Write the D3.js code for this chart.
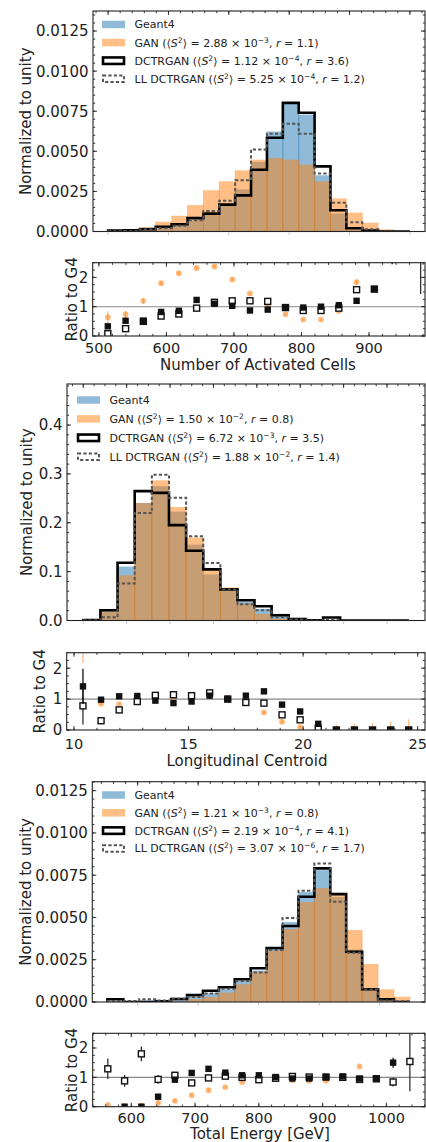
<!DOCTYPE html>
<html><head><meta charset="utf-8">
<script src="https://cdn.jsdelivr.net/npm/d3@7"></script>
<style>body{margin:0;background:#fff}svg{display:block}text{font-family:"DejaVu Sans",sans-serif;fill:#222}</style>
</head><body><script>
// ---------------- DATA ----------------
const seriesNames = ["Geant4", "GAN", "DCTRGAN", "LL DCTRGAN"];

// Panel 1: Number of Activated Cells
const cellsEdges = [500, 526.3, 552.6, 578.9, 605.3, 631.6, 657.9, 684.2, 710.5, 736.8, 763.2, 789.5, 815.8, 842.1, 868.4, 894.7, 921.1, 947.4, 973.7, 1000];
const cellsG4   = [0.000093, 0.000149, 0.000248, 0.000347, 0.000496, 0.000695, 0.001055, 0.001638, 0.002624, 0.004342, 0.006235, 0.007953, 0.007289, 0.003505, 0.001117, 0.000130, 0.000025, 0.000006, 0];
const cellsGAN  = [0.000062, 0.000112, 0.000267, 0.000608, 0.000980, 0.001644, 0.002574, 0.003133, 0.003815, 0.004479, 0.004578, 0.004479, 0.004169, 0.003133, 0.002060, 0.001179, 0.000546, 0.000136, 0];
const cellsDCTR = [0.000056, 0.000081, 0.000143, 0.000292, 0.000453, 0.000837, 0.001117, 0.001675, 0.002252, 0.003846, 0.005850, 0.008021, 0.007401, 0.004063, 0.001321, 0.000205, 0.000062, 0, 0];
const cellsLL   = [0.000009, 0.000034, 0.000130, 0.000199, 0.000360, 0.000701, 0.001284, 0.001923, 0.003189, 0.005118, 0.006092, 0.006712, 0.006092, 0.003610, 0.001787, 0.000571, 0.000136, 0, 0];
const cellsStats = [null, ["2.88", "−3", "1.1"], ["1.12", "−4", "3.6"], ["5.25", "−4", "1.2"]];
const cellsRatioX    = [513.2, 539.5, 565.8, 592.1, 618.4, 644.7, 671.1, 697.4, 723.7, 750.0, 776.3, 802.6, 828.9, 855.3, 881.6, 907.9, 934.2, 976.5];
const cellsRatioGAN  = [0.64, 0.74, 1.2, 1.8, 2.14, 2.32, 2.37, 1.93, 1.45, 1.06, 0.74, 0.56, 0.56, 0.85, 1.84, null, null, null];
const cellsErrGAN    = [0.2, 0.12, 0.1, 0.08, 0.06, 0.05, 0.05, 0.05, 0.04, 0.03, 0.03, 0.02, 0.03, 0.04, 0.08, 0, 0, 0];
const cellsRatioDCTR = [0.33, 0.52, 0.52, 0.82, 0.86, 1.23, 1.1, 1.03, 0.87, 0.9, 0.97, 0.97, 1.0, 1.05, 1.2, 1.6, 2.9, null];
const cellsErrDCTR   = [0.08, 0.07, 0.08, 0.06, 0.05, 0.04, 0.04, 0.03, 0.03, 0.03, 0.02, 0.02, 0.02, 0.03, 0.04, 0.1, 0.45, 0];
const cellsRatioLL   = [0.08, 0.25, 0.5, 0.68, 0.75, 0.95, 1.15, 1.2, 1.2, 1.18, 0.97, 0.87, 0.87, 0.95, 1.58, 1.6, null, 3.0];
const cellsErrLL     = [0.05, 0.06, 0.07, 0.06, 0.05, 0.04, 0.04, 0.03, 0.03, 0.03, 0.02, 0.02, 0.02, 0.03, 0.05, 0.1, 0, 1.57];
const cellsYTicks = [0, 0.0025, 0.005, 0.0075, 0.01, 0.0125];
const cellsRatioXTicks = [500, 600, 700, 800, 900];

// Panel 2: Longitudinal Centroid
const centEdges = [10, 10.79, 11.58, 12.37, 13.16, 13.95, 14.74, 15.53, 16.32, 17.11, 17.89, 18.68, 19.47, 20.26, 21.05, 21.84, 22.63, 23.42, 24.21, 25];
const centG4   = [0.0006, 0.0215, 0.1104, 0.2404, 0.2749, 0.2228, 0.1553, 0.0942, 0.0638, 0.0388, 0.0239, 0.0137, 0.0053, 0.0027, 0, 0, 0, 0, 0];
const centGAN  = [0.0018, 0.0182, 0.0926, 0.2404, 0.2868, 0.2322, 0.1697, 0.1063, 0.0675, 0.0347, 0.0137, 0.0037, 0.0005, 0.0001, 0, 0, 0, 0, 0];
const centDCTR = [0.0009, 0.0211, 0.1181, 0.2647, 0.2612, 0.1952, 0.1427, 0.1047, 0.0638, 0.0415, 0.0292, 0.0108, 0.0031, 0.0005, 0.0061, 0, 0, 0, 0];
const centLL   = [0.0005, 0.0065, 0.0756, 0.2199, 0.2984, 0.2514, 0.1723, 0.1177, 0.0634, 0.0333, 0.0211, 0.0067, 0.0018, 0.0001, 0.0010, 0, 0, 0, 0];
const centStats = [null, ["1.50", "−2", "0.8"], ["6.72", "−3", "3.5"], ["1.88", "−2", "1.4"]];
const centRatioX    = [10.39, 11.18, 11.97, 12.76, 13.55, 14.34, 15.13, 15.92, 16.71, 17.50, 18.29, 19.08, 19.87, 20.66, 21.45, 22.24, 23.03, 23.82, 24.61];
const centRatioGAN  = [3.0, 0.85, 0.84, 1.0, 1.07, 1.07, 1.09, 1.16, 1.05, 0.89, 0.57, 0.27, 0.09, 0.02, 0, 0, 0, 0, 0];
const centErrGAN    = [0.83, 0.06, 0.03, 0.02, 0.02, 0.02, 0.02, 0.03, 0.03, 0.04, 0.05, 0.05, 0.04, 0.02, 0.16, 0.2, 0.22, 0.27, 0.35];
const centRatioDCTR = [1.41, 0.98, 1.09, 1.1, 0.95, 0.87, 0.92, 1.11, 1.0, 1.11, 1.25, 0.82, 0.6, 0.2, 0, 0, 0, 0, 0];
const centErrDCTR   = [0.57, 0.06, 0.03, 0.02, 0.02, 0.02, 0.02, 0.03, 0.03, 0.04, 0.05, 0.06, 0.08, 0.07, 0, 0, 0, 0, 0];
const centRatioLL   = [0.78, 0.3, 0.65, 0.92, 1.12, 1.14, 1.11, 1.2, 1.0, 0.89, 0.87, 0.49, 0.33, 0.05, 0, 0, 0, 0, 0];
const centErrLL     = [0.6, 0.05, 0.03, 0.02, 0.02, 0.02, 0.02, 0.03, 0.03, 0.04, 0.05, 0.05, 0.05, 0.03, 0, 0, 0, 0, 0];
const centYTicks = [0, 0.1, 0.2, 0.3, 0.4];
const centRatioXTicks = [10, 15, 20, 25];

// Panel 3: Total Energy
const energyEdges = [550, 576.3, 602.6, 628.9, 655.3, 681.6, 707.9, 734.2, 760.5, 786.8, 813.2, 839.5, 865.8, 892.1, 918.4, 944.7, 971.1, 997.4, 1023.7, 1050];
const energyG4   = [0.000047, 0.000059, 0.000089, 0.000100, 0.000195, 0.000361, 0.000520, 0.000751, 0.001253, 0.001862, 0.003162, 0.004728, 0.006501, 0.007801, 0.006206, 0.003103, 0.000780, 0.000106, 0.000030];
const energyGAN  = [0.000003, 0.000002, 0.000003, 0.000012, 0.000041, 0.000177, 0.000290, 0.000561, 0.001052, 0.001785, 0.003038, 0.004314, 0.005910, 0.006737, 0.006460, 0.004255, 0.002246, 0.000751, 0.000313];
const energyDCTR = [0.000160, 0, 0, 0.000035, 0.000177, 0.000414, 0.000668, 0.000869, 0.001342, 0.001992, 0.003191, 0.004492, 0.006223, 0.007902, 0.006383, 0.002973, 0.000751, 0.000160, 0];
const energyLL   = [0.000059, 0.000053, 0.000160, 0.000095, 0.000207, 0.000290, 0.000508, 0.000780, 0.001241, 0.001743, 0.003073, 0.004964, 0.006578, 0.008197, 0.005928, 0.002914, 0.000739, 0.000089, 0.000047];
const energyStats = [null, ["1.21", "−3", "0.8"], ["2.19", "−4", "4.1"], ["3.07", "−6", "1.7"]];
const energyRatioX    = [563.2, 589.5, 615.8, 642.1, 668.4, 694.7, 721.1, 747.4, 773.7, 800.0, 826.3, 852.6, 878.9, 905.3, 931.6, 957.9, 984.2, 1010.5, 1036.8];
const energyRatioGAN  = [0.06, 0.03, 0.04, 0.13, 0.2, 0.39, 0.56, 0.67, 0.84, 0.96, 0.96, 0.9, 0.88, 0.88, 1.03, 1.37, null, null, null];
const energyErrGAN    = [0.04, 0.03, 0.03, 0.04, 0.04, 0.04, 0.04, 0.03, 0.03, 0.02, 0.02, 0.02, 0.02, 0.02, 0.02, 0.03, 0, 0, 0];
const energyRatioDCTR = [null, 0, 0, 0.34, 0.92, 1.15, 1.29, 1.16, 1.07, 1.07, 1.01, 0.96, 0.96, 1.01, 1.03, 0.96, 0.96, 1.5, null];
const energyErrDCTR   = [0, 0, 0, 0.1, 0.08, 0.06, 0.05, 0.04, 0.03, 0.03, 0.02, 0.02, 0.02, 0.02, 0.02, 0.03, 0.05, 0.17, 0];
const energyRatioLL   = [1.29, 0.88, 1.8, 0.93, 1.07, 0.81, 0.98, 1.04, 1.0, 0.92, 0.97, 1.03, 1.01, 1.01, 1.0, 0.93, 0.95, 0.84, 1.54];
const energyErrLL     = [0.35, 0.2, 0.25, 0.15, 0.12, 0.08, 0.06, 0.05, 0.04, 0.03, 0.02, 0.02, 0.02, 0.02, 0.02, 0.03, 0.05, 0.15, 1.01];
const energyYTicks = [0, 0.0025, 0.005, 0.0075, 0.01, 0.0125];
const energyRatioXTicks = [600, 700, 800, 900, 1000];

const ratioYTicks = [0, 1, 2];

// ---------------- DRAWING ----------------
const BLUE = "#1f77b4", ORANGE = "#ff7f0e", INK = "#222";
const svg = d3.select("body").append("svg").attr("width", 426).attr("height", 1142);
let clipId = 0;

function ticks(g, scale, vals, orient, box, len, opts = {}) {
  const col = opts.color || INK;
  vals.forEach(v => {
    const p = scale(v);
    if (orient === "left") g.append("line").attr("x1", box.l).attr("x2", box.l + len).attr("y1", p).attr("y2", p);
    if (orient === "right") g.append("line").attr("x1", box.r).attr("x2", box.r - len).attr("y1", p).attr("y2", p);
    if (orient === "top") g.append("line").attr("y1", box.t).attr("y2", box.t + len).attr("x1", p).attr("x2", p);
    if (orient === "bottom") g.append("line").attr("y1", box.b).attr("y2", box.b - len).attr("x1", p).attr("x2", p);
    if (orient === "bottomOut") g.append("line").attr("y1", box.b + 1).attr("y2", box.b + 1 + len).attr("x1", p).attr("x2", p);
  });
  g.selectAll("line").attr("stroke", col).attr("stroke-width", opts.w || 0.9);
}

function range(a, b, s) { const out = []; for (let v = a; v <= b + s * 1e-6; v += s) out.push(+v.toFixed(6)); return out; }

function legendText(sel, name, stats) {
  sel.append("tspan").text(name + (stats ? " (⟨" : ""));
  if (!stats) return;
  sel.append("tspan").attr("font-style", "italic").text("S");
  sel.append("tspan").attr("font-size", "7.5px").attr("dy", -4).text("2");
  sel.append("tspan").attr("dy", 4).text("⟩ = " + stats[0] + " × 10");
  sel.append("tspan").attr("font-size", "7.5px").attr("dy", -4).text(stats[1]);
  sel.append("tspan").attr("dy", 4).text(", ");
  sel.append("tspan").attr("font-style", "italic").text("r");
  sel.append("tspan").text(" = " + stats[2] + ")");
}

function drawMain(o) {
  const box = o.box;
  const g = svg.append("g");
  const x = d3.scaleLinear().domain(o.xDomain).range([box.l, box.r]);
  const y = d3.scaleLinear().domain(o.yDomain).range([box.b, box.t]);
  const id = "c" + (clipId++);
  g.append("clipPath").attr("id", id).append("rect").attr("x", box.l).attr("y", box.t).attr("width", box.r - box.l).attr("height", box.b - box.t);
  const pg = g.append("g").attr("clip-path", `url(#${id})`);
  const E = o.edges;
  [[o.g4, BLUE], [o.gan, ORANGE]].forEach(([vals, col]) => {
    pg.append("g").selectAll("rect").data(vals).enter().append("rect")
      .attr("x", (d, i) => x(E[i])).attr("width", (d, i) => x(E[i + 1]) - x(E[i]))
      .attr("y", d => y(d)).attr("height", d => y(0) - y(d))
      .attr("fill", col).attr("fill-opacity", 0.5);
    pg.append("path").attr("fill", "none").attr("stroke", col).attr("stroke-opacity", 0.4).attr("stroke-width", 0.8)
      .attr("d", vals.map((d, i) => d > 0 ? `M${x(E[i])},${y(0)}V${y(d)}M${x(E[i + 1])},${y(d)}V${y(0)}` : "").join(""));
  });
  const step = vals => {
    let p = `M${x(E[0])},${y(0)}`;
    vals.forEach((v, i) => { p += `V${y(v)}H${x(E[i + 1])}`; });
    return p + `V${y(0)}`;
  };
  pg.append("path").attr("d", step(o.dctr)).attr("fill", "none").attr("stroke", "#000").attr("stroke-width", 2.6);
  pg.append("path").attr("d", step(o.ll)).attr("fill", "none").attr("stroke", "#555").attr("stroke-width", 2).attr("stroke-dasharray", "3.2,2.2");

  // ticks
  const tg = g.append("g");
  ticks(tg.append("g"), y, o.yMinor, "left", box, 2.2);
  ticks(tg.append("g"), y, o.yMinor, "right", box, 2.2);
  ticks(tg.append("g"), y, o.yTicks, "left", box, 4);
  ticks(tg.append("g"), y, o.yTicks, "right", box, 4);
  ticks(tg.append("g"), x, o.xMinor, "top", box, 2.2);
  ticks(tg.append("g"), x, o.xTicks, "top", box, 4);
  ticks(tg.append("g"), x, o.xTicks, "bottomOut", box, 2.5, { color: "#bbb" });

  g.append("rect").attr("x", box.l).attr("y", box.t).attr("width", box.r - box.l).attr("height", box.b - box.t)
    .attr("fill", "none").attr("stroke", INK).attr("stroke-width", 1.1);

  g.append("g").selectAll("text").data(o.yTicks).enter().append("text")
    .attr("x", box.l - 4.5).attr("y", d => y(d)).attr("dy", "0.36em").attr("text-anchor", "end")
    .attr("font-size", "15px").text(o.yFmt);
  g.append("text").attr("transform", `translate(${o.ylabX},${(box.t + box.b) / 2}) rotate(-90)`)
    .attr("text-anchor", "middle").attr("dy", "0.36em").attr("font-size", "15px").text("Normalized to unity");

  // legend
  const lg = g.append("g");
  seriesNames.forEach((name, i) => {
    const cy = o.leg.y0 + i * o.leg.dy;
    const hx = o.leg.x, hw = 23, hh = 7.5;
    if (i < 2) lg.append("rect").attr("x", hx).attr("y", cy - hh / 2).attr("width", hw).attr("height", hh)
      .attr("fill", i === 0 ? BLUE : ORANGE).attr("fill-opacity", 0.5);
    else lg.append("rect").attr("x", hx + 1).attr("y", cy - hh / 2 + 0.5).attr("width", hw - 2).attr("height", hh - 1)
      .attr("fill", "#fff").attr("stroke", i === 2 ? "#000" : "#555").attr("stroke-width", i === 2 ? 2.6 : 2)
      .attr("stroke-dasharray", i === 2 ? null : "3.2,2.2");
    const t = lg.append("text").attr("x", hx + hw + 9.5).attr("y", cy).attr("dy", "0.36em").attr("font-size", "11px");
    legendText(t, name, o.stats[i]);
  });
}

function drawRatio(o) {
  const box = o.box;
  const g = svg.append("g");
  const x = d3.scaleLinear().domain(o.xDomain).range([box.l, box.r]);
  const y = d3.scaleLinear().domain([0, 2.5]).range([box.b, box.t]);
  const id = "c" + (clipId++);
  g.append("clipPath").attr("id", id).append("rect").attr("x", box.l).attr("y", box.t).attr("width", box.r - box.l).attr("height", box.b - box.t);
  const pg = g.append("g").attr("clip-path", `url(#${id})`);
  pg.append("line").attr("x1", box.l).attr("x2", box.r).attr("y1", y(1)).attr("y2", y(1)).attr("stroke", "#888").attr("stroke-width", 1.1);

  const errs = (vals, err, col, w) => {
    pg.append("g").selectAll("line").data(vals.map((v, i) => [i, v]).filter(d => d[1] !== null && err[d[0]] > 0)).enter().append("line")
      .attr("x1", d => x(o.rx[d[0]])).attr("x2", d => x(o.rx[d[0]]))
      .attr("y1", d => y(d[1] - err[d[0]])).attr("y2", d => y(d[1] + err[d[0]]))
      .attr("stroke", col).attr("stroke-width", w);
  };
  const pts = (vals) => vals.map((v, i) => [i, v]).filter(d => d[1] !== null);
  // GAN
  errs(o.gan, o.ganErr, "#ffbb80", 1.3);
  pg.append("g").selectAll("circle").data(pts(o.gan)).enter().append("circle")
    .attr("cx", d => x(o.rx[d[0]])).attr("cy", d => y(d[1])).attr("r", 2.9).attr("fill", ORANGE).attr("fill-opacity", 0.55);
  // LL open squares
  errs(o.ll, o.llErr, "#222", 1.2);
  pg.append("g").selectAll("rect").data(pts(o.ll)).enter().append("rect")
    .attr("x", d => x(o.rx[d[0]]) - 3).attr("y", d => y(d[1]) - 3).attr("width", 6).attr("height", 6)
    .attr("fill", "#fff").attr("stroke", "#111").attr("stroke-width", 1.4);
  // DCTR filled squares
  errs(o.dctr, o.dctrErr, "#111", 1.3);
  pg.append("g").selectAll("rect").data(pts(o.dctr)).enter().append("rect")
    .attr("x", d => x(o.rx[d[0]]) - 3.2).attr("y", d => y(d[1]) - 3.2).attr("width", 6.4).attr("height", 6.4)
    .attr("fill", "#111");

  const tg = g.append("g");
  const ymin = range(0, 2.5, 0.25);
  ticks(tg.append("g"), y, ymin, "left", box, 2.2);
  ticks(tg.append("g"), y, ymin, "right", box, 2.2);
  ticks(tg.append("g"), y, ratioYTicks, "left", box, 4);
  ticks(tg.append("g"), y, ratioYTicks, "right", box, 4);
  ticks(tg.append("g"), x, o.xMinor, "top", box, 2.2);
  ticks(tg.append("g"), x, o.xTicks, "top", box, 4);
  ticks(tg.append("g"), x, o.xMinor, "bottom", box, 2.2);
  ticks(tg.append("g"), x, o.xTicks, "bottom", box, 4);

  g.append("rect").attr("x", box.l).attr("y", box.t).attr("width", box.r - box.l).attr("height", box.b - box.t)
    .attr("fill", "none").attr("stroke", INK).attr("stroke-width", 1.1);

  g.append("g").selectAll("text").data(ratioYTicks).enter().append("text")
    .attr("x", box.l - 4.5).attr("y", d => y(d)).attr("dy", "0.36em").attr("text-anchor", "end")
    .attr("font-size", "15px").text(d => d);
  g.append("g").selectAll("text").data(o.xTicks).enter().append("text")
    .attr("x", d => x(d)).attr("y", box.b + o.tickDy).attr("text-anchor", "middle")
    .attr("font-size", "14.5px").text(d => d);
  g.append("text").attr("x", o.xlab[0]).attr("y", box.b + o.xlabDy).attr("text-anchor", "middle").attr("font-size", "15px").text(o.xlabel);
  g.append("text").attr("transform", `translate(${o.ylabX},${(box.t + box.b) / 2}) rotate(-90)`)
    .attr("text-anchor", "middle").attr("dy", "0.36em").attr("font-size", "15px").text("Ratio to G4");
}

// Panel 1
drawMain({
  box: { l: 93, r: 425, t: 11, b: 231.5 }, xDomain: [475, 1025], yDomain: [0, 0.01375],
  edges: cellsEdges, g4: cellsG4, gan: cellsGAN, dctr: cellsDCTR, ll: cellsLL, stats: cellsStats,
  yTicks: cellsYTicks, yMinor: range(0, 0.0135, 0.0005), yFmt: d => d.toFixed(4),
  xTicks: [500, 600, 700, 800, 900, 1000], xMinor: range(480, 1020, 20),
  ylabX: 26, leg: { x: 102, y0: 24.5, dy: 18.1 }
});
drawRatio({
  box: { l: 92.7, r: 425, t: 262.7, b: 336 }, xDomain: [490.8, 982.9],
  rx: cellsRatioX, gan: cellsRatioGAN, ganErr: cellsErrGAN, dctr: cellsRatioDCTR, dctrErr: cellsErrDCTR, ll: cellsRatioLL, llErr: cellsErrLL,
  xTicks: cellsRatioXTicks, xMinor: range(500, 980, 20), tickDy: 16.5, xlabDy: 34, xlab: [258, 0], xlabel: "Number of Activated Cells", ylabX: 71.5
});

// Panel 2
drawMain({
  box: { l: 67, r: 425, t: 384, b: 620.5 }, xDomain: [9.25, 25.75], yDomain: [0, 0.484],
  edges: centEdges, g4: centG4, gan: centGAN, dctr: centDCTR, ll: centLL, stats: centStats,
  yTicks: centYTicks, yMinor: range(0, 0.48, 0.02), yFmt: d => d.toFixed(1),
  xTicks: [10, 12, 14, 16, 18, 20, 22, 24], xMinor: range(9.5, 25.5, 0.5),
  ylabX: 27, leg: { x: 77, y0: 400, dy: 18.9 }
});
drawRatio({
  box: { l: 66.7, r: 425, t: 652.7, b: 730 }, xDomain: [9.68, 25.32],
  rx: centRatioX, gan: centRatioGAN, ganErr: centErrGAN, dctr: centRatioDCTR, dctrErr: centErrDCTR, ll: centRatioLL, llErr: centErrLL,
  xTicks: centRatioXTicks, xMinor: range(10, 25, 1), tickDy: 18.5, xlabDy: 35.5, xlab: [247, 0], xlabel: "Longitudinal Centroid", ylabX: 40
});

// Panel 3
drawMain({
  box: { l: 92.3, r: 425, t: 781.7, b: 1002 }, xDomain: [525, 1075], yDomain: [0, 0.01303],
  edges: energyEdges, g4: energyG4, gan: energyGAN, dctr: energyDCTR, ll: energyLL, stats: energyStats,
  yTicks: energyYTicks, yMinor: range(0, 0.013, 0.0005), yFmt: d => d.toFixed(4),
  xTicks: [600, 700, 800, 900, 1000], xMinor: range(540, 1060, 20),
  ylabX: 26, leg: { x: 102, y0: 795, dy: 17.8 }
});
drawRatio({
  box: { l: 92.7, r: 425, t: 1033.3, b: 1106.7 }, xDomain: [539.5, 1060.5],
  rx: energyRatioX, gan: energyRatioGAN, ganErr: energyErrGAN, dctr: energyRatioDCTR, dctrErr: energyErrDCTR, ll: energyRatioLL, llErr: energyErrLL,
  xTicks: energyRatioXTicks, xMinor: range(540, 1060, 20), tickDy: 16, xlabDy: 32.5, xlab: [260, 0], xlabel: "Total Energy [GeV]", ylabX: 72
});
</script></body></html>
